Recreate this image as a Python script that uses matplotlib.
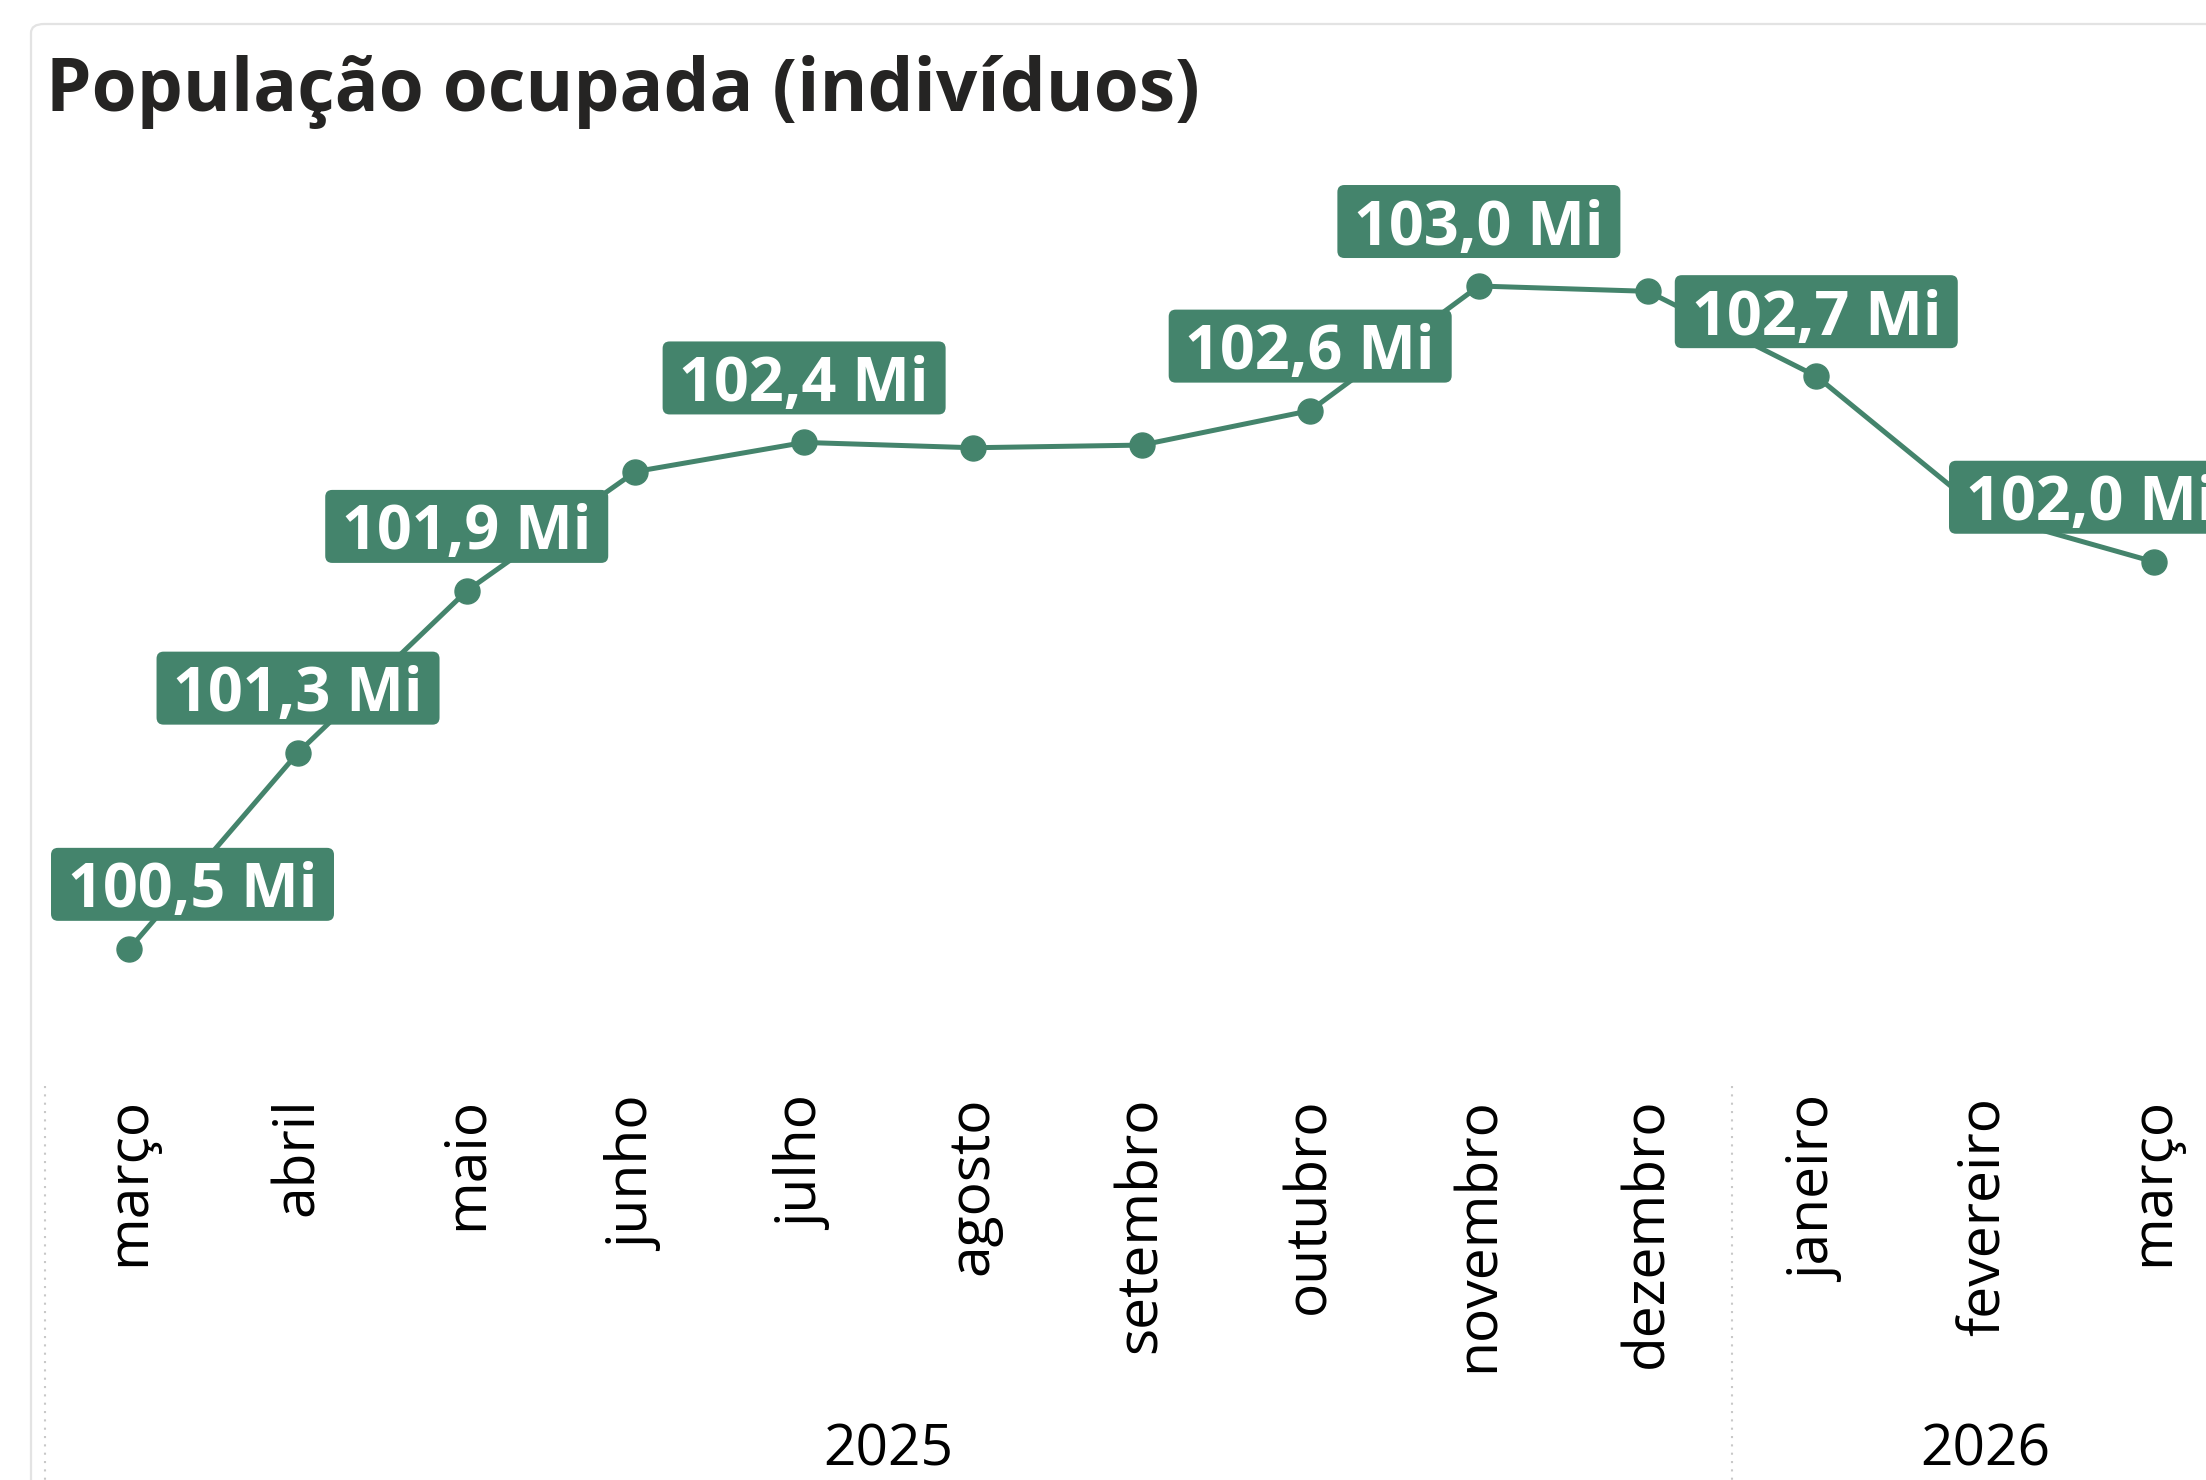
# =====================================================
# POPULACAO OCUPADA - LINE CHART
# =====================================================

import matplotlib
matplotlib.use("Agg")
import matplotlib.pyplot as plt
from matplotlib.patches import FancyBboxPatch
import matplotlib.transforms as mtransforms

plt.rcParams['font.family'] = ['Open Sans', 'DejaVu Sans']

# =====================================================
# DATA
# =====================================================

months = ["março", "abril", "maio", "junho", "julho", "agosto",
          "setembro", "outubro", "novembro", "dezembro",
          "janeiro", "fevereiro", "março"]

years = ["2025", "2026"]
year_counts = [10, 3]

# milhoes de pessoas
values = [100.53, 101.27, 101.88, 102.33, 102.44, 102.42, 102.43,
          102.56, 103.03, 103.01, 102.69, 102.17, 101.99]

# which points get a data label (others hidden, as in the original)
show_label = [True, True, True, False, True, False, False,
              True, True, False, True, False, True]

green = "#44846c"
text_dark = "#252423"

# =====================================================
# FIGURE
# =====================================================

W, H = 2206, 1480
fig = plt.figure(figsize=(W / 100, H / 100), dpi=100)

# card border (cropped on right and bottom)
card = FancyBboxPatch((31 / W, -0.05), 1.2, 1 - 24 / H + 0.05,
                      boxstyle="round,pad=0,rounding_size=0.006",
                      transform=fig.transFigure, facecolor="none",
                      edgecolor="#e3e3e3", linewidth=1.6, zorder=-1)
fig.patches.append(card)

ax = fig.add_axes([45 / W, 1 - 1083 / H, 2193 / W, 933 / H])
ax.set_facecolor("none")

x = list(range(len(months)))

ax.plot(x, values, color=green, linewidth=3.6, marker="o",
        markersize=18, zorder=3)

ax.set_xlim(-0.5, len(months) - 0.5)
ax.set_ylim(100.024, 103.543)

for s in ax.spines.values():
    s.set_visible(False)
ax.set_yticks([])
ax.set_xticks(x)
ax.set_xticklabels(months, rotation=90, fontsize=41, color="black")
ax.tick_params(axis="x", length=0, pad=10)

# =====================================================
# DATA LABELS (boxes sized in pixels above each point)
# =====================================================

box_w, box_h, gap, edge = 283, 73, 28, 6
ax_left_px = 45
ax_right_px = 45 + 2193
pix = mtransforms.IdentityTransform()

for xi, v, show in zip(x, values, show_label):
    if not show:
        continue
    px, py = ax.transData.transform((xi, v))
    left = px - box_w / 2
    left = max(left, ax_left_px + edge)
    left = min(left, ax_right_px - edge - box_w)
    bottom = py + gap
    box = FancyBboxPatch((left, bottom), box_w, box_h,
                         boxstyle="round,pad=0,rounding_size=7",
                         transform=pix, facecolor=green, edgecolor="none",
                         zorder=4, clip_on=False)
    ax.add_artist(box)
    label = f"{v:.1f}".replace(".", ",") + " Mi"
    ax.text(left + box_w / 2, bottom + box_h / 2, label, transform=pix,
            ha="center", va="center_baseline", fontsize=44,
            fontweight="bold", color="white", zorder=5, clip_on=False)

# =====================================================
# YEAR GROUPS AND SEPARATORS
# =====================================================

trans = mtransforms.blended_transform_factory(ax.transData, ax.transAxes)

start = 0
seps = [-0.5]
for yr, n in zip(years, year_counts):
    center = start + (n - 1) / 2
    ax.text(center, -0.4105, yr, transform=trans, ha="center",
            va="baseline", fontsize=41, color="black")
    start += n
    seps.append(start - 0.5)

for sx in seps[:-1]:
    ax.plot([sx, sx], [-0.003, -0.45], transform=trans, color="#c8c8c8",
            linestyle=(0, (1, 3)), linewidth=1.5, clip_on=False)

# =====================================================
# TITLE
# =====================================================

fig.text(46 / W, 1 - 111 / H, "População ocupada (indivíduos)",
         fontsize=52.5, fontweight="bold", color=text_dark,
         ha="left", va="baseline")

fig.savefig("out.png", dpi=100)
